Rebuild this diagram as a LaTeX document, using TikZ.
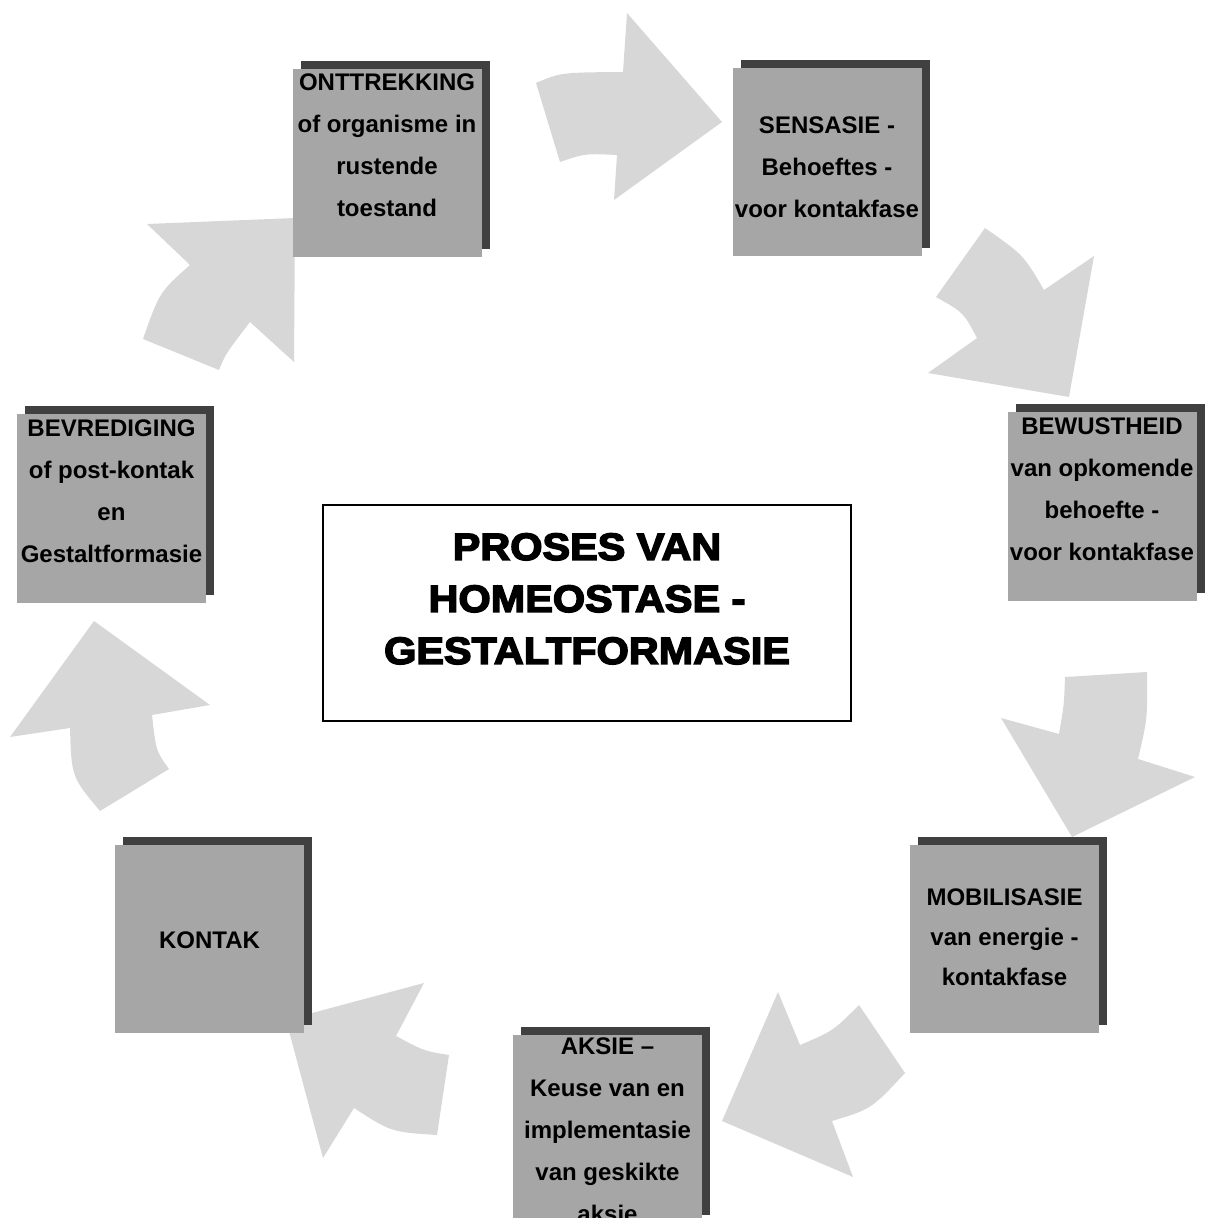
\documentclass[tikz,border=0pt]{standalone}
\usepackage{fontspec}
\setmainfont{Liberation Sans}
\newfontfamily\titlefont[FakeStretch=1.09, BoldFeatures={FakeBold=4}]{Liberation Sans}
\usetikzlibrary{shadows}
\definecolor{boxgray}{RGB}{166,166,166}
\definecolor{shadegray}{RGB}{64,64,64}
\definecolor{arrowgray}{RGB}{215,215,215}

\begin{document}
\begin{tikzpicture}[x=0.5pt, y=-0.5pt,
  phase/.style={fill=boxgray, minimum width=94.5pt, minimum height=94pt, inner sep=0pt,
    drop shadow={shadow xshift=4pt, shadow yshift=4pt, fill=shadegray, opacity=1}},
  phasetext/.style={font=\bfseries\fontsize{12}{21}\selectfont, align=center, inner sep=0pt, anchor=north},
  titletext/.style={font=\titlefont\bfseries\fontsize{19}{26}\selectfont, align=center, inner sep=0pt, anchor=north},
  flow/.style={fill=arrowgray}]

\useasboundingbox (0,0) rectangle (1210,1218);
\clip (0,0) rectangle (1210,1218);

% curved block arrows running clockwise round the cycle
\fill[flow] (536,83) .. controls (560.5,72.5) .. (623,72) -- (627,13) -- (722,122)
  -- (614,200) -- (617,155) .. controls (585,153.5) .. (560,162) -- cycle;
\fill[flow] (985,228) .. controls (1023.5,255) .. (1044,290) -- (1094,256) -- (1069,397)
  -- (928,373) -- (977,338) .. controls (963.5,312.5) .. (936,297) -- cycle;
\fill[flow] (1065,677) -- (1147,672) .. controls (1147.5,718.5) .. (1138,759) -- (1195,777)
  -- (1072,837) -- (1001,718) -- (1059,734) .. controls (1064,705) .. (1065,677) -- cycle;
\fill[flow] (859,1005) -- (905,1073) .. controls (871.5,1109) .. (832,1121) -- (853,1177)
  -- (722,1121) -- (778,992) -- (800,1045) .. controls (833,1031) .. (859,1005) -- cycle;
\fill[flow] (286,1020) -- (424,983) -- (396,1036) .. controls (424,1051) .. (449,1055)
  -- (437,1135) .. controls (391,1132) .. (354,1108) -- (323,1158) -- cycle;
\fill[flow] (94,621) -- (210,705) -- (152,715) .. controls (156,751) .. (169,769)
  -- (100,811) .. controls (71.5,777) .. (70,728) -- (10,737) -- cycle;
\fill[flow] (147,224) -- (295,218) -- (294,362) -- (250,322) .. controls (225.5,354) .. (219,370)
  -- (143,339) .. controls (159.5,292) .. (190,265) -- cycle;

% phase boxes
\node[phase] (ontt) at (387,163) {};
\node[phase] (sens) at (827,162) {};
\node[phase] (bewu) at (1102,506.5) {};
\node[phase] (mobi) at (1004.5,938.5) {};
\node[phase] (aksi) at (607.5,1129) {};
\node[phase] (kont) at (209.5,938.5) {};
\node[phase] (bevr) at (111.5,508.5) {};

% phase texts
\node[phasetext] (onttT) at (387,73.5) {ONTTREKKING\\of organisme in\\rustende\\toestand};
\node[phasetext] (sensT) at (827,116) {SENSASIE -\\Behoeftes -\\voor kontakfase};
\node[phasetext] (bewuT) at (1102,417.5) {BEWUSTHEID\\van opkomende\\behoefte -\\voor kontakfase};
\node[phasetext, font=\bfseries\fontsize{12}{20}\selectfont] (mobiT) at (1004.5,888) {MOBILISASIE\\van energie -\\kontakfase};
\node[phasetext] (aksiT) at (607.5,1037) {AKSIE –\\Keuse van en\\implementasie\\van geskikte\\aksie};
\node[phasetext] (kontT) at (209.5,931.5) {KONTAK};
\node[phasetext] (bevrT) at (111.5,419) {BEVREDIGING\\of post-kontak\\en\\Gestaltformasie};

% central title
\node[draw=black, line width=0.75pt, minimum width=264pt, minimum height=108pt, inner sep=0pt] (titlebox) at (587,613) {};
\node[titletext] (title) at (587,533) {PROSES VAN\\HOMEOSTASE -\\GESTALTFORMASIE};

\end{tikzpicture}
\end{document}
